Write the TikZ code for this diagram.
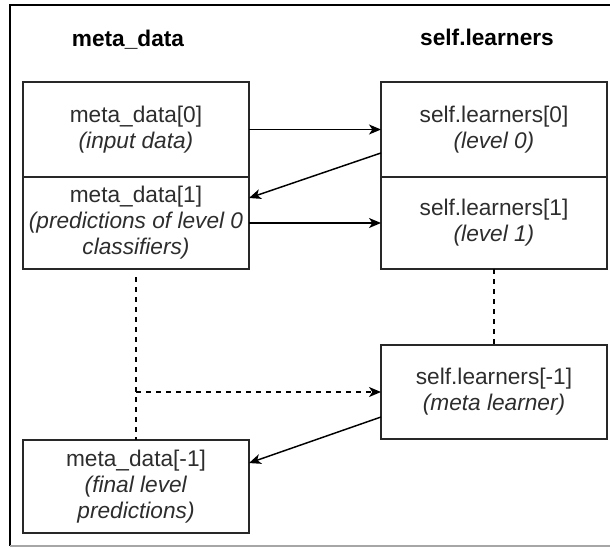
\documentclass[tikz,border=0pt]{standalone}
\usepackage{fontspec}
\setmainfont{Liberation Sans}
\usetikzlibrary{arrows.meta,calc}

\begin{document}
\begin{tikzpicture}[x=0.75pt,y=-0.75pt,
  box/.style={draw=boxline,line width=1.1pt,minimum width=169.5pt,inner sep=0pt,outer sep=0pt,
    align=center,text=textgray,font=\fontsize{17}{19.5}\selectfont},
  header/.style={font=\fontsize{17}{19.5}\selectfont\bfseries},
  flow/.style={line width=1.1pt,-{Stealth[length=9pt,width=7.5pt,inset=2.5pt]}},
  link/.style={line width=1.1pt,dash pattern=on 4pt off 3.5pt}]
% Define colors
\definecolor{boxline}{RGB}{40,40,40}
\definecolor{textgray}{RGB}{45,45,45}

\useasboundingbox (0,0) rectangle (610,547);

% Frame
\draw[line width=1.5pt] (10,546) -- (10,5) -- (610,5);
\draw[gray!70,line width=1pt] (10,546) -- (610,546);

% Column headers
\node[header] (hdata) at (128,40) {meta\_data};
\node[header] (hlearn) at (487,37) {self.learners};

% meta_data column
\node[box,minimum height=71.25pt] (md0) at (136,129.5) {meta\_data[0]\\\textit{(input data)}};
\node[box,minimum height=69pt] (md1) at (136,223) {meta\_data[1]\\\textit{(predictions of level 0}\\\textit{classifiers)}};
\node[box,minimum height=69.75pt] (mdlast) at (136,486.5) {meta\_data[-1]\\\textit{(final level}\\\textit{predictions)}};

% self.learners column
\node[box,minimum height=71.25pt] (sl0) at (494,129.5) {self.learners[0]\\\textit{(level 0)}};
\node[box,minimum height=69pt] (sl1) at (494,223) {self.learners[1]\\\textit{(level 1)}};
\node[box,minimum height=70.5pt] (sllast) at (494,392) {self.learners[-1]\\\textit{(meta learner)}};

% Data flow
\draw[flow] (md0.east) -- (sl0.west);
\draw[flow] ([yshift=-17.6pt]sl0.west) -- ([yshift=18.75pt]md1.east);
\draw[flow] (md1.east) -- (sl1.west);
\draw[flow] ([yshift=-18.75pt]sllast.west) -- ([yshift=17.6pt]mdlast.east);

% Skipped levels
\draw[link] (sl1.south) -- (sllast.north);
\draw[link] ([yshift=-6pt]md1.south) -- (mdlast.north);
\draw[link,-{Stealth[length=9pt,width=7.5pt,inset=2.5pt]}] (md1.south |- sllast.west) -- (sllast.west);
\end{tikzpicture}
\end{document}
